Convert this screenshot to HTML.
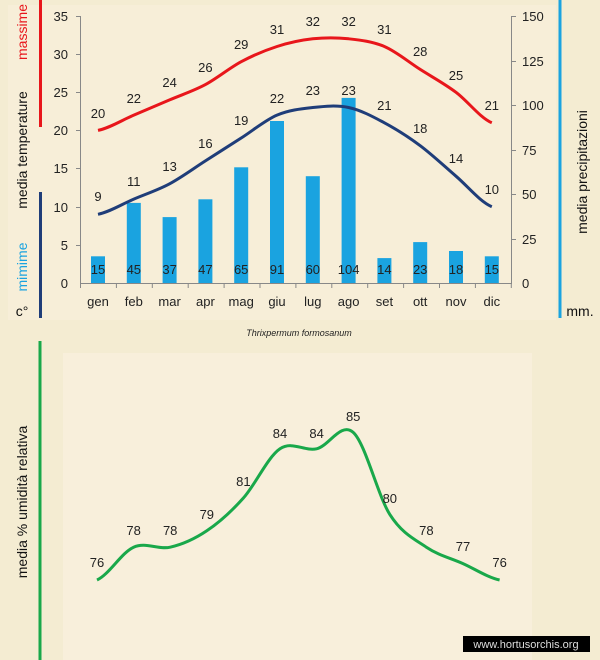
<!DOCTYPE html>
<html><head><meta charset="utf-8"><style>
html,body{margin:0;padding:0;background:#f4ecd2;}
svg{display:block;font-family:"Liberation Sans",sans-serif;}
</style></head><body>
<svg width="600" height="660" viewBox="0 0 600 660" xmlns="http://www.w3.org/2000/svg">
<rect width="600" height="660" fill="#f4ecd2"/>
<rect x="8" y="5" width="548" height="315" fill="#f7eed8"/>
<rect x="63" y="353" width="469" height="307" fill="#f8efdb"/>
<line x1="40.5" y1="0" x2="40.5" y2="127" stroke="#e8161b" stroke-width="3"/>
<line x1="40.5" y1="192" x2="40.5" y2="318" stroke="#1f3d79" stroke-width="3"/>
<line x1="560" y1="0" x2="560" y2="318" stroke="#1aa3e0" stroke-width="3"/>
<line x1="40" y1="341" x2="40" y2="660" stroke="#19a84a" stroke-width="3"/>
<g font-size="14" text-anchor="middle">
<text transform="translate(27,32) rotate(-90)" fill="#e8161b">massime</text>
<text transform="translate(27,150) rotate(-90)" fill="#111">media  temperature</text>
<text transform="translate(27,267) rotate(-90)" fill="#1aa3e0">mimime</text>
<text x="22" y="316" fill="#111">c°</text>
<text transform="translate(587,172) rotate(-90)" fill="#111">media  precipitazioni</text>
<text x="580" y="316" fill="#111">mm.</text>
<text transform="translate(27,502) rotate(-90)" fill="#111">media  %  umidità relativa</text>
</g>
<g fill="#1aa3e0">
<rect x="91" y="256.3" width="14" height="26.7"/>
<rect x="126.8" y="202.9" width="14" height="80.1"/>
<rect x="162.6" y="217.1" width="14" height="65.9"/>
<rect x="198.4" y="199.3" width="14" height="83.7"/>
<rect x="234.2" y="167.3" width="14" height="115.7"/>
<rect x="270" y="121" width="14" height="162"/>
<rect x="305.8" y="176.2" width="14" height="106.8"/>
<rect x="341.6" y="97.9" width="14" height="185.1"/>
<rect x="377.4" y="258.1" width="14" height="24.9"/>
<rect x="413.2" y="242.1" width="14" height="40.9"/>
<rect x="449" y="251" width="14" height="32"/>
<rect x="484.8" y="256.3" width="14" height="26.7"/>
</g>
<g stroke="#888" stroke-width="1">
<line x1="80.5" y1="16" x2="80.5" y2="283"/>
<line x1="511.5" y1="16" x2="511.5" y2="283"/>
<line x1="80" y1="283.5" x2="512" y2="283.5"/>
<line x1="76" y1="16.5" x2="80" y2="16.5"/><line x1="76" y1="54.5" x2="80" y2="54.5"/><line x1="76" y1="92.5" x2="80" y2="92.5"/><line x1="76" y1="130.5" x2="80" y2="130.5"/><line x1="76" y1="168.5" x2="80" y2="168.5"/><line x1="76" y1="207.5" x2="80" y2="207.5"/><line x1="76" y1="245.5" x2="80" y2="245.5"/>
<line x1="512" y1="16.5" x2="516" y2="16.5"/><line x1="512" y1="61.5" x2="516" y2="61.5"/><line x1="512" y1="105.5" x2="516" y2="105.5"/><line x1="512" y1="150.5" x2="516" y2="150.5"/><line x1="512" y1="194.5" x2="516" y2="194.5"/><line x1="512" y1="239.5" x2="516" y2="239.5"/>
<line x1="116.4" y1="283" x2="116.4" y2="288"/><line x1="152.3" y1="283" x2="152.3" y2="288"/><line x1="188.2" y1="283" x2="188.2" y2="288"/><line x1="224.1" y1="283" x2="224.1" y2="288"/><line x1="260" y1="283" x2="260" y2="288"/><line x1="295.9" y1="283" x2="295.9" y2="288"/><line x1="331.8" y1="283" x2="331.8" y2="288"/><line x1="367.7" y1="283" x2="367.7" y2="288"/><line x1="403.6" y1="283" x2="403.6" y2="288"/><line x1="439.5" y1="283" x2="439.5" y2="288"/><line x1="475.4" y1="283" x2="475.4" y2="288"/><line x1="80.5" y1="283" x2="80.5" y2="288"/><line x1="511.3" y1="283" x2="511.3" y2="288"/>
</g>
<g font-size="13" fill="#222" text-anchor="end">
<text x="68" y="21">35</text><text x="68" y="59">30</text><text x="68" y="97">25</text><text x="68" y="135">20</text><text x="68" y="173">15</text><text x="68" y="212">10</text><text x="68" y="250">5</text><text x="68" y="288">0</text>
</g>
<g font-size="13" fill="#222">
<text x="522" y="21">150</text><text x="522" y="66">125</text><text x="522" y="110">100</text><text x="522" y="155">75</text><text x="522" y="199">50</text><text x="522" y="244">25</text><text x="522" y="288">0</text>
</g>
<g font-size="13" fill="#222" text-anchor="middle">
<text x="98" y="306">gen</text><text x="133.8" y="306">feb</text><text x="169.6" y="306">mar</text><text x="205.4" y="306">apr</text><text x="241.2" y="306">mag</text><text x="277" y="306">giu</text><text x="312.8" y="306">lug</text><text x="348.6" y="306">ago</text><text x="384.4" y="306">set</text><text x="420.2" y="306">ott</text><text x="456" y="306">nov</text><text x="491.8" y="306">dic</text>
</g>
<path fill="none" stroke="#e8161b" stroke-width="3" d="M98,130.4 C109.9,127.9 121.9,120.2 133.8,115.1 C145.7,110.0 157.7,105.0 169.6,99.9 C181.5,94.8 193.5,91.0 205.4,84.6 C217.3,78.2 229.3,68.1 241.2,61.7 C253.1,55.4 265.1,50.3 277,46.5 C288.9,42.7 300.9,40.1 312.8,38.8 C324.7,37.5 336.7,37.5 348.6,38.8 C360.5,40.1 372.5,41.4 384.4,46.5 C396.3,51.6 408.3,61.8 420.2,69.4 C432.1,77.0 444.1,83.4 456,92.3 C467.9,101.2 479.9,117.7 491.8,122.8"/>
<path fill="none" stroke="#1f3d79" stroke-width="3" d="M98,214.3 C109.9,211.8 121.9,204.2 133.8,199.1 C145.7,194.0 157.7,190.2 169.6,183.8 C181.5,177.4 193.5,168.5 205.4,160.9 C217.3,153.3 229.3,145.6 241.2,138.0 C253.1,130.4 265.1,120.2 277,115.1 C288.9,110.0 300.9,108.8 312.8,107.5 C324.7,106.2 336.7,105.0 348.6,107.5 C360.5,110.0 372.5,116.4 384.4,122.8 C396.3,129.2 408.3,136.8 420.2,145.7 C432.1,154.6 444.1,166.0 456,176.2 C467.9,186.4 479.9,201.6 491.8,206.7"/>
<path fill="none" stroke="#19a84a" stroke-width="3" d="M97,580 C109.2,574.5 121.4,552.7 133.6,547.2 C145.8,541.7 158,549.9 170.2,547.2 C182.4,544.5 194.6,539.0 206.8,530.8 C219,522.6 231.2,511.7 243.4,498 C255.6,484.3 267.8,457.0 280,448.8 C292.2,440.6 304.4,451.5 316.6,448.8 C328.8,446.1 341,421.5 353.2,432.4 C365.4,443.3 377.6,495.3 389.8,514.4 C402,533.5 414.2,539.0 426.4,547.2 C438.6,555.4 450.8,558.1 463,563.6 C475.2,569.1 487.4,577.3 499.6,580"/>
<g font-size="13" fill="#222" text-anchor="middle">
<text x="98" y="118">20</text><text x="133.8" y="103">22</text><text x="169.6" y="87">24</text><text x="205.4" y="72">26</text><text x="241.2" y="49">29</text><text x="277" y="34">31</text><text x="312.8" y="26">32</text><text x="348.6" y="26">32</text><text x="384.4" y="34">31</text><text x="420.2" y="56">28</text><text x="456" y="80">25</text><text x="491.8" y="110">21</text>
<text x="98" y="201">9</text><text x="133.8" y="186">11</text><text x="169.6" y="171">13</text><text x="205.4" y="148">16</text><text x="241.2" y="125">19</text><text x="277" y="103">22</text><text x="312.8" y="95">23</text><text x="348.6" y="95">23</text><text x="384.4" y="110">21</text><text x="420.2" y="133">18</text><text x="456" y="163">14</text><text x="491.8" y="194">10</text>
<text x="98" y="274">15</text><text x="133.8" y="274">45</text><text x="169.6" y="274">37</text><text x="205.4" y="274">47</text><text x="241.2" y="274">65</text><text x="277" y="274">91</text><text x="312.8" y="274">60</text><text x="348.6" y="274">104</text><text x="384.4" y="274">14</text><text x="420.2" y="274">23</text><text x="456" y="274">18</text><text x="491.8" y="274">15</text>
<text x="97" y="567">76</text><text x="133.6" y="535">78</text><text x="170.2" y="535">78</text><text x="206.8" y="519">79</text><text x="243.4" y="486">81</text><text x="280" y="438">84</text><text x="316.6" y="438">84</text><text x="353.2" y="421">85</text><text x="389.8" y="503">80</text><text x="426.4" y="535">78</text><text x="463" y="551">77</text><text x="499.6" y="567">76</text>
</g>
<text x="299" y="336" font-size="9" font-style="italic" fill="#222" text-anchor="middle">Thrixpermum formosanum</text>
<rect x="463" y="636" width="127" height="16" fill="#000"/>
<text x="526" y="648" font-size="11" fill="#ddd" text-anchor="middle">www.hortusorchis.org</text>
</svg>
</body></html>
